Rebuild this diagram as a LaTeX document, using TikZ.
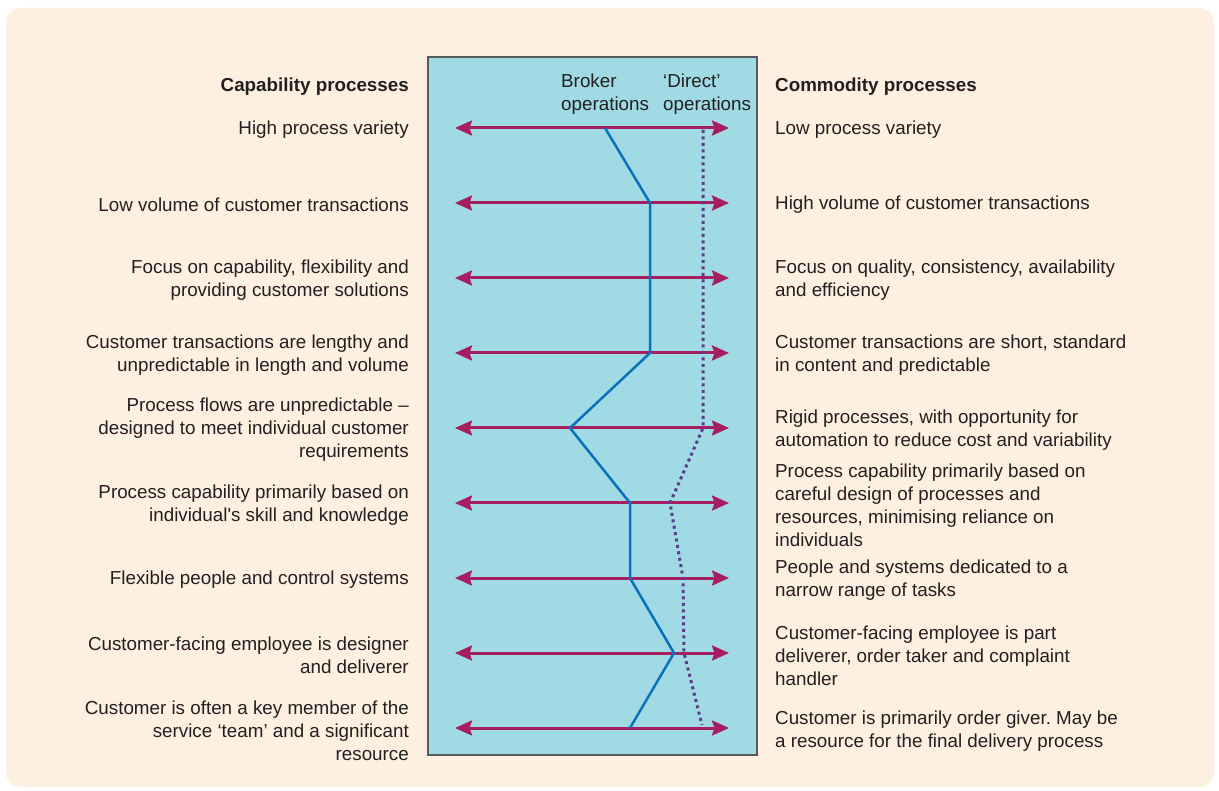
\documentclass[tikz,border=0pt]{standalone}
\usepackage{fontspec}
\setmainfont{Liberation Sans}
\usetikzlibrary{arrows.meta}
\definecolor{bgpeach}{RGB}{254,240,225}
\definecolor{boxcyan}{RGB}{160,218,229}
\definecolor{arrowmag}{RGB}{166,30,95}
\definecolor{brokerblue}{RGB}{10,114,186}
\definecolor{directpurple}{RGB}{90,62,140}
\definecolor{textgrey}{RGB}{35,31,32}
\frenchspacing

\begin{document}
\begin{tikzpicture}[x=1pt, y=-1pt,
  lbl/.style={font=\fontsize{18.8}{23}\selectfont, text=textgrey, inner sep=0pt},
  leftlbl/.style={lbl, anchor=east, align=right},
  rightlbl/.style={lbl, anchor=west, align=left},
  hdr/.style={lbl, font=\fontsize{18.8}{23}\selectfont\bfseries},
  scalearrow/.style={draw=arrowmag, line width=3pt, {Stealth[length=17pt,width=15pt,inset=2.5pt]}-{Stealth[length=17pt,width=15pt,inset=2.5pt]}},
  brokerline/.style={draw=brokerblue, line width=2.5pt, line join=miter},
  directline/.style={draw=directpurple, line width=3pt, dash pattern=on 3pt off 3.5pt}]
\useasboundingbox (0,0) rectangle (1219,791);
\fill[white] (0,0) rectangle (1219,791);
\fill[bgpeach, rounded corners=15pt] (6,8) rectangle (1214,787);
% central box
\fill[boxcyan, draw=black!65, line width=1.5pt] (428,57) rectangle (757,755);

% column headings
\node[hdr, anchor=east] (caphdr) at (409,87) {Capability processes};
\node[hdr, anchor=west] (comhdr) at (775,87) {Commodity processes};
\node[lbl, anchor=west, align=left] (brokerhdr) at (561,94) {Broker\\operations};
\node[lbl, anchor=west, align=left] (directhdr) at (663,94) {`Direct'\\operations};

% scale arrows
\foreach \i in {1,...,9} {
  \coordinate (l\i) at (455,{128+75*(\i-1)});
  \coordinate (r\i) at (729,{128+75*(\i-1)});
  \draw[scalearrow] (l\i) -- (r\i);
}

% profile points
\coordinate (b1) at (605,128);
\coordinate (b2) at (650,203);
\coordinate (b3) at (650,278);
\coordinate (b4) at (650,353);
\coordinate (b5) at (570,428);
\coordinate (b6) at (630,503);
\coordinate (b7) at (630,578);
\coordinate (b8) at (674,653);
\coordinate (b9) at (630,728);
\coordinate (d1) at (703,130);
\coordinate (d2) at (703,203);
\coordinate (d3) at (703,278);
\coordinate (d4) at (703,353);
\coordinate (d5) at (703,428);
\coordinate (d6) at (670,503);
\coordinate (d7) at (683,578);
\coordinate (d8) at (684,653);
\coordinate (d9) at (702,725);
\draw[brokerline] (b1) -- (b2) -- (b3) -- (b4) -- (b5) -- (b6) -- (b7) -- (b8) -- (b9);
\draw[directline] (d1) -- (d2) -- (d3) -- (d4) -- (d5) -- (d6) -- (d7) -- (d8) -- (d9);

% left labels
\node[leftlbl] (cap1) at (409,130) {High process variety};
\node[leftlbl] (cap2) at (409,205) {Low volume of customer transactions};
\node[leftlbl] (cap3) at (409,280) {Focus on capability, flexibility and\\providing customer solutions};
\node[leftlbl] (cap4) at (409,355) {Customer transactions are lengthy and\\unpredictable in length and volume};
\node[leftlbl] (cap5) at (409,430) {Process flows are unpredictable --\\designed to meet individual customer\\requirements};
\node[leftlbl] (cap6) at (409,505) {Process capability primarily based on\\individual\textquotesingle s skill and knowledge};
\node[leftlbl] (cap7) at (409,580) {Flexible people and control systems};
\node[leftlbl] (cap8) at (409,655) {Customer-facing employee is designer\\and deliverer};
\node[leftlbl] (cap9) at (409,731) {Customer is often a key member of the\\service `team' and a significant\\resource};

% right labels
\node[rightlbl] (com1) at (775,130) {Low process variety};
\node[rightlbl] (com2) at (775,205) {High volume of customer transactions};
\node[rightlbl] (com3) at (775,280) {Focus on quality, consistency, availability\\and efficiency};
\node[rightlbl] (com4) at (775,355) {Customer transactions are short, standard\\in content and predictable};
\node[rightlbl] (com5) at (775,430) {Rigid processes, with opportunity for\\automation to reduce cost and variability};
\node[rightlbl] (com6) at (775,505) {Process capability primarily based on\\careful design of processes and\\resources, minimising reliance on\\individuals};
\node[rightlbl] (com7) at (775,580) {People and systems dedicated to a\\narrow range of tasks};
\node[rightlbl] (com8) at (775,656) {Customer-facing employee is part\\deliverer, order taker and complaint\\handler};
\node[rightlbl] (com9) at (775,731) {Customer is primarily order giver. May be\\a resource for the final delivery process};
\end{tikzpicture}
\end{document}
